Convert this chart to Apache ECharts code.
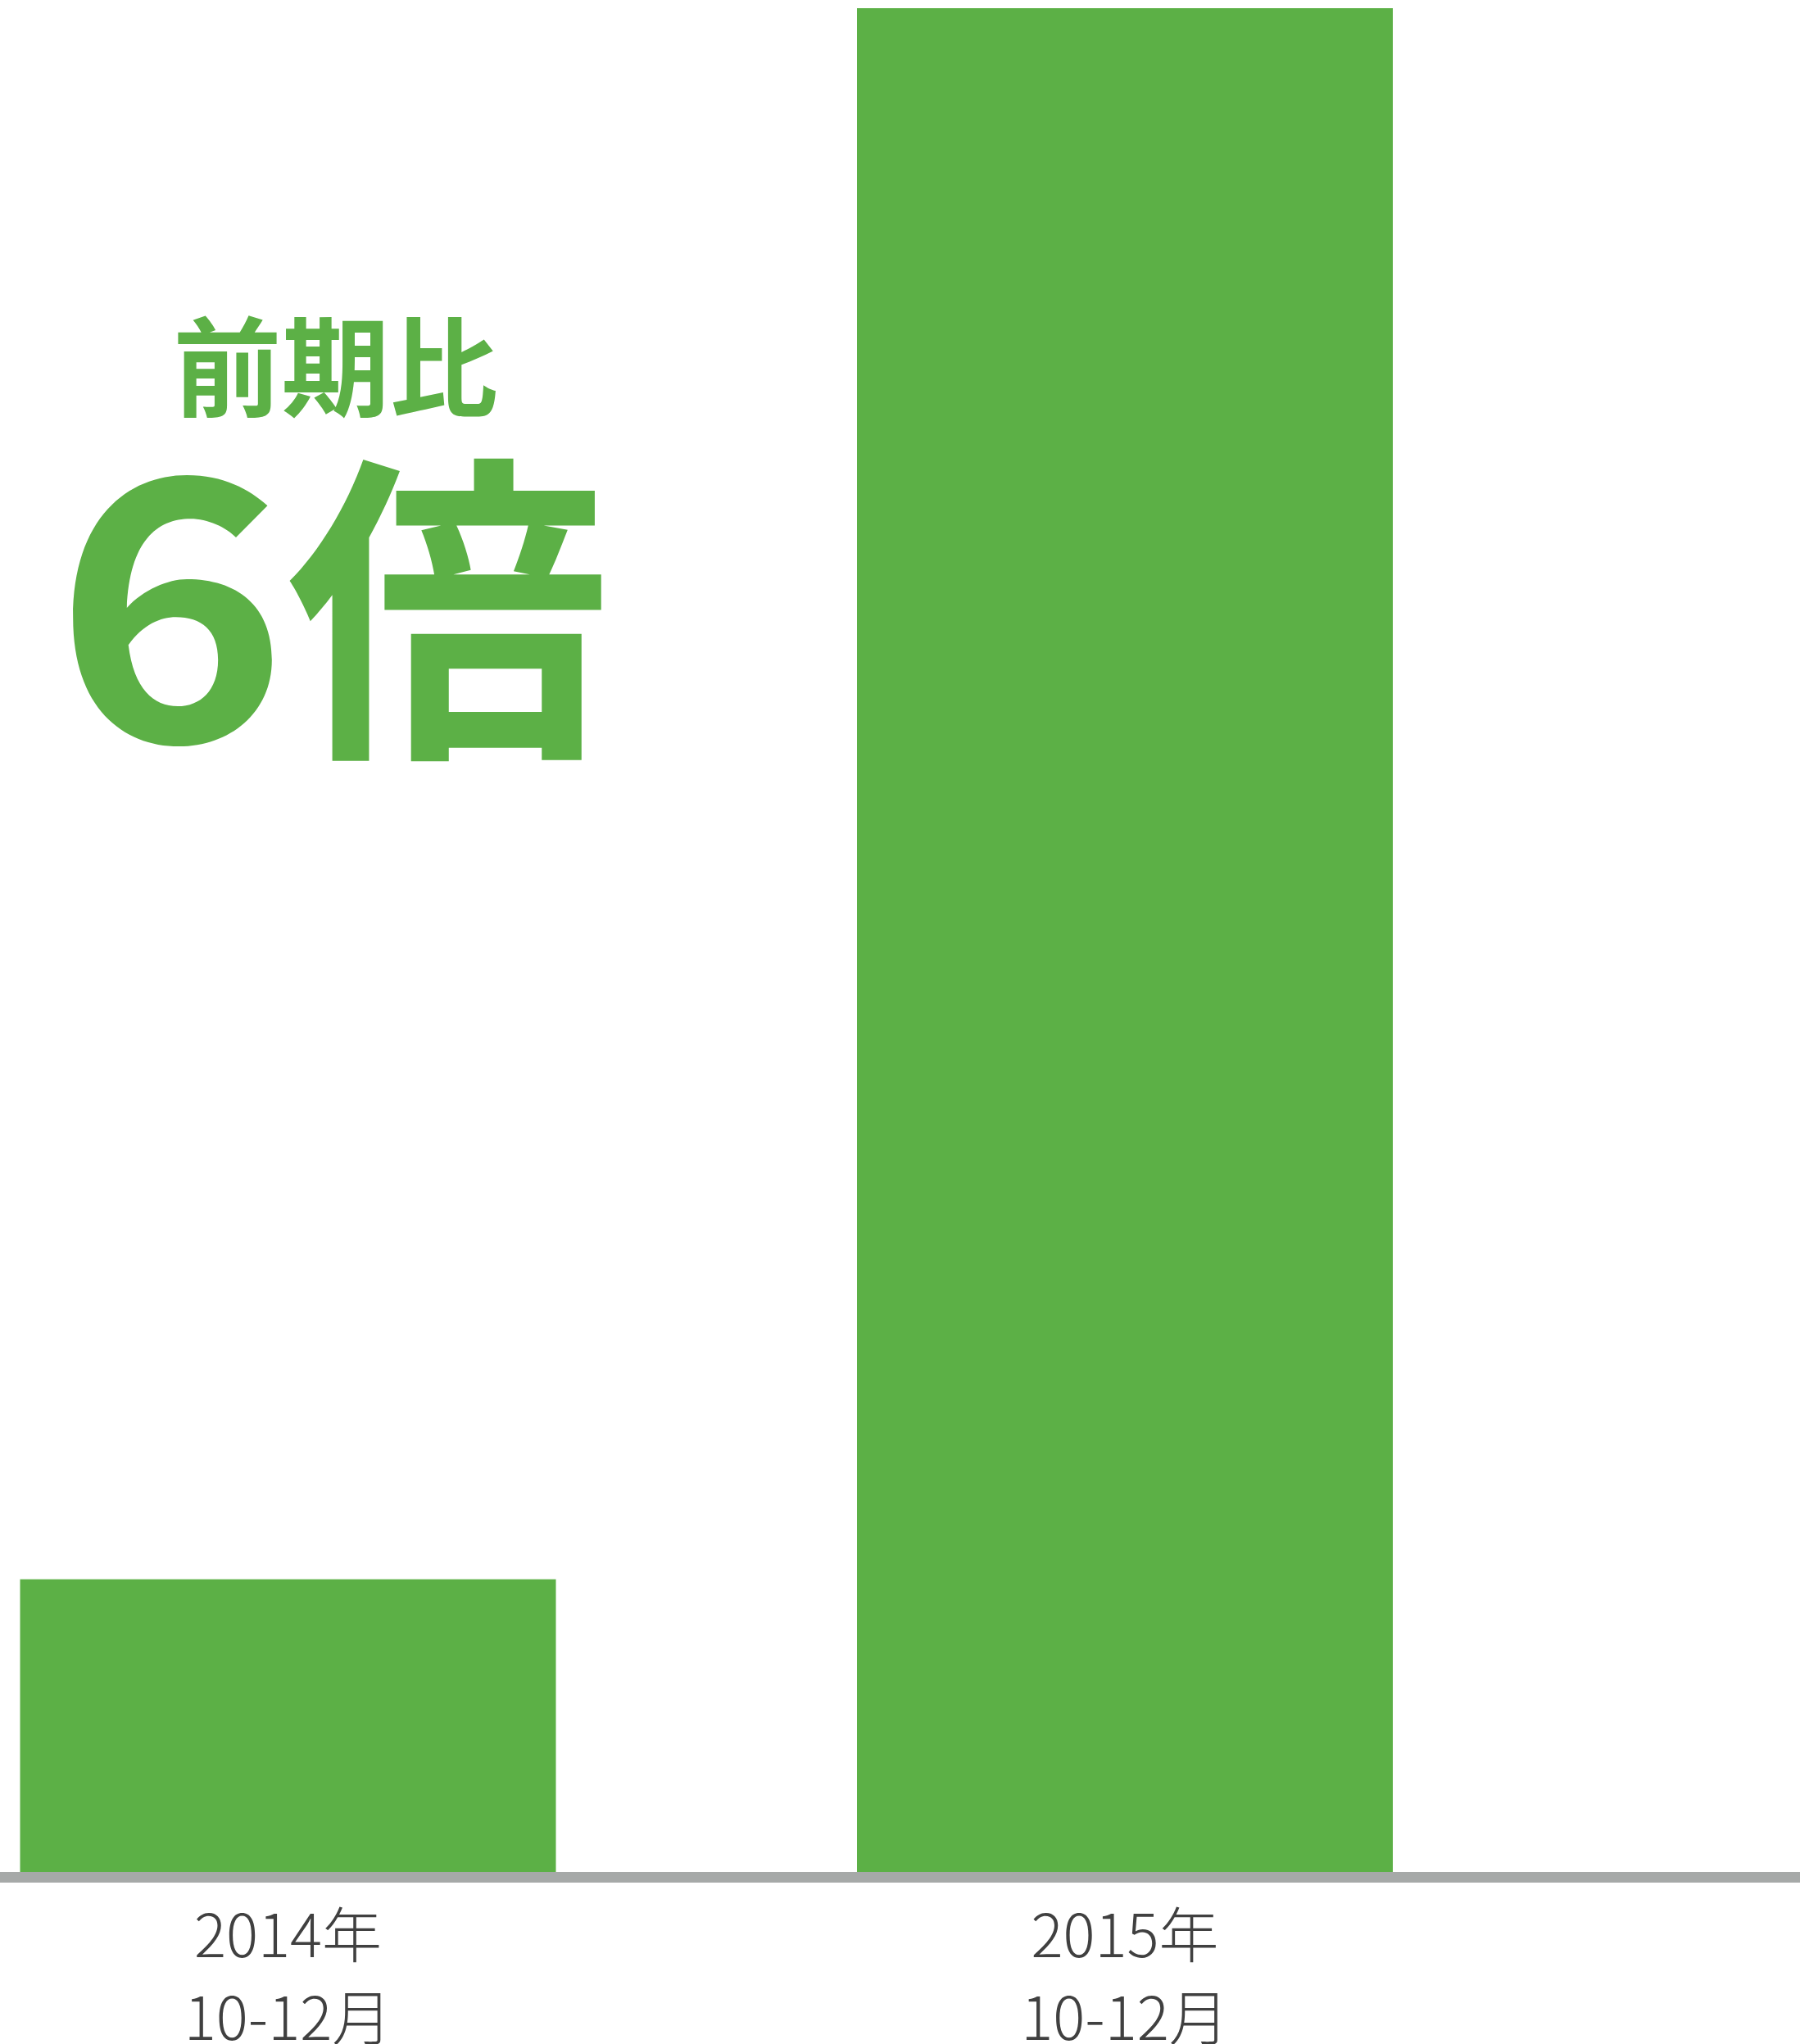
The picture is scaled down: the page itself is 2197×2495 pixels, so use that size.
<!DOCTYPE html>
<html>
<head>
<meta charset="utf-8">
<title>前期比 6倍</title>
<script src="https://cdn.jsdelivr.net/npm/echarts@6/dist/echarts.min.js"></script>
<style>
  html, body { margin: 0; padding: 0; background: #ffffff; }
  #chart { width: 2197px; height: 2495px; }
</style>
</head>
<body>
<div id="chart"></div>
<script>
// Quarterly totals (Oct–Dec), relative units
const categories = ['2014年\n10-12月', '2015年\n10-12月'];
const quarterValues = [100, 637];

const GREEN = '#5cb046';
const AXIS_GREY = '#a6a9a8';
const LABEL_GREY = '#404040';
const CJK = '"Noto Sans CJK JP", "Noto Sans", sans-serif';

const chart = echarts.init(document.getElementById('chart'), null, { renderer: 'canvas' });

chart.setOption({
  backgroundColor: '#ffffff',
  animation: false,
  grid: [
    // plotting grid for the two bars (extends past the left edge so the
    // first bar sits close to the border)
    { left: -159.25, right: 313.25, top: 10, bottom: 210, outerBoundsMode: 'none', containLabel: false },
    // full-width grid that only carries the baseline, drawn just below the bars
    { left: 0, right: 0, top: 10, bottom: 203.5, outerBoundsMode: 'none', containLabel: false }
  ],
  xAxis: [
    {
      type: 'category',
      gridIndex: 0,
      data: categories,
      axisLine: { show: false },
      axisTick: { show: false },
      splitLine: { show: false },
      axisLabel: {
        margin: 26,
        fontSize: 73,
        lineHeight: 101,
        color: LABEL_GREY,
        fontFamily: CJK,
        fontWeight: 300,
        interval: 0
      }
    },
    {
      type: 'value',
      gridIndex: 1,
      min: 0,
      max: 1,
      z: 10,
      axisLine: { show: true, lineStyle: { color: AXIS_GREY, width: 13 } },
      axisTick: { show: false },
      axisLabel: { show: false },
      splitLine: { show: false }
    }
  ],
  yAxis: [
    { type: 'value', gridIndex: 0, min: 0, max: 637, show: false, splitLine: { show: false } },
    { type: 'value', gridIndex: 1, min: 0, max: 1, show: false, splitLine: { show: false } }
  ],
  series: [
    {
      type: 'bar',
      xAxisIndex: 0,
      yAxisIndex: 0,
      data: quarterValues,
      barWidth: 654,
      itemStyle: { color: GREEN },
      silent: true
    }
  ],
  graphic: [
    {
      type: 'text',
      x: 409.5,
      y: 447.5,
      style: {
        text: '前期比',
        fill: GREEN,
        font: 'bold 132px ' + CJK,
        textAlign: 'center',
        textVerticalAlign: 'middle'
      }
    },
    {
      type: 'text',
      x: 208.75,
      y: 737,
      scaleX: 1.1,
      style: {
        text: '6',
        fill: GREEN,
        font: 'bold 442px ' + CJK,
        textAlign: 'center',
        textVerticalAlign: 'middle'
      }
    },
    {
      type: 'text',
      x: 547,
      y: 744.5,
      style: {
        text: '倍',
        fill: GREEN,
        font: 'bold 394px ' + CJK,
        textAlign: 'center',
        textVerticalAlign: 'middle'
      }
    }
  ]
});
</script>
</body>
</html>
